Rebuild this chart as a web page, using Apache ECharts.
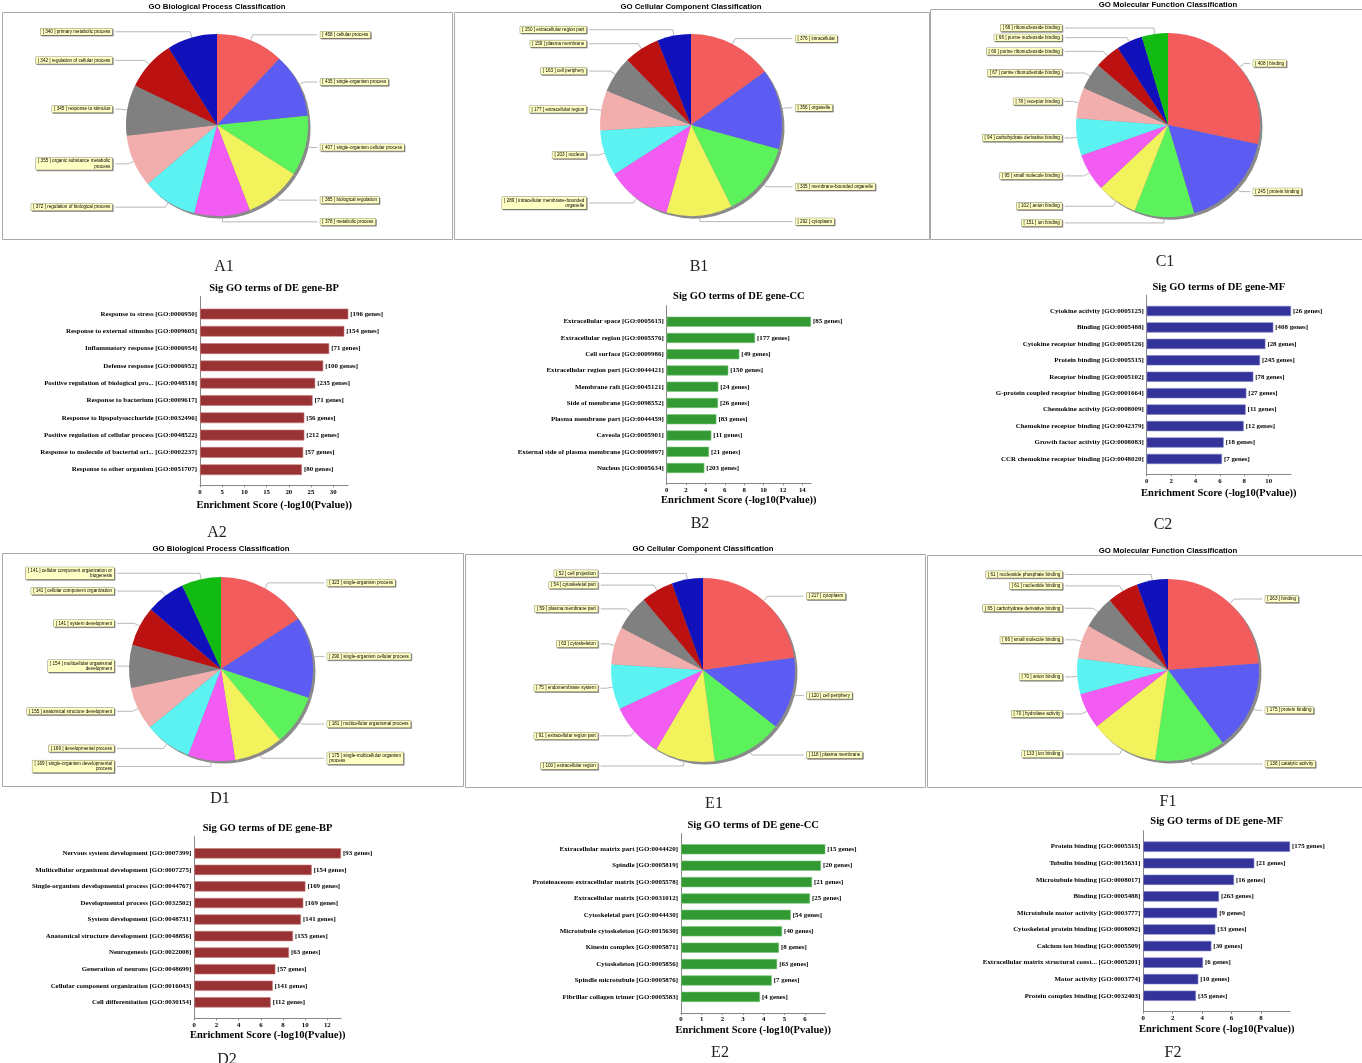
<!DOCTYPE html>
<html><head><meta charset="utf-8">
<script src="https://cdn.jsdelivr.net/npm/echarts@6/dist/echarts.min.js"></script>
<style>html,body{margin:0;padding:0;background:#fff}#c{width:1362px;height:1063px}</style>
</head><body><div id="c"></div>
<script>
// ---------- Pie data ----------
const A1_names = ['cellular process','single-organism process','single-organism cellular process','biological regulation','metabolic process','regulation of biological process','organic substance metabolic process','response to stimulus','regulation of cellular process','primary metabolic process'];
const A1_values = [458,435,407,385,378,372,355,345,342,340];
const B1_names = ['intracellular','organelle','membrane-bounded organelle','cytoplasm','intracellular membrane-bounded organelle','nucleus','extracellular region','cell periphery','plasma membrane','extracellular region part'];
const B1_values = [376,356,335,292,289,203,177,163,159,150];
const C1_names = ['binding','protein binding','ion binding','anion binding','small molecule binding','carbohydrate derivative binding','receptor binding','purine ribonucleotide binding','purine ribonucleoside binding','purine nucleoside binding','ribonucleoside binding'];
const C1_values = [408,245,151,102,95,94,78,67,66,66,66];
const D1_names = ['single-organism process','single-organism cellular process','multicellular organismal process','single-multicellular organism process','single-organism developmental process','developmental process','anatomical structure development','multicellular organismal development','system development','cellular component organization','cellular component organization or biogenesis'];
const D1_values = [323,290,181,175,169,169,155,154,141,141,141];
const E1_names = ['cytoplasm','cell periphery','plasma membrane','extracellular region','extracellular region part','endomembrane system','cytoskeleton','plasma membrane part','cytoskeletal part','cell projection'];
const E1_values = [217,120,118,100,91,75,63,59,54,52];
const F1_names = ['binding','protein binding','catalytic activity','ion binding','hydrolase activity','anion binding','small molecule binding','carbohydrate derivative binding','nucleotide binding','nucleoside phosphate binding'];
const F1_values = [263,175,138,133,70,70,66,65,61,61];

// ---------- Bar data ----------
const A2_terms = ['Response to stress [GO:0006950]','Response to external stimulus [GO:0009605]','Inflammatory response [GO:0006954]','Defense response [GO:0006952]','Positive regulation of biological pro... [GO:0048518]','Response to bacterium [GO:0009617]','Response to lipopolysaccharide [GO:0032496]','Positive regulation of cellular process [GO:0048522]','Response to molecule of bacterial ori... [GO:0002237]','Response to other organism [GO:0051707]'];
const A2_scores = [33.4,32.5,29.1,27.75,25.95,25.35,23.5,23.5,23.25,22.95];
const A2_genes = [196,154,71,100,235,71,56,212,57,80];
const A2_ticks = [0,5,10,15,20,25,30];

const B2_terms = ['Extracellular space [GO:0005615]','Extracellular region [GO:0005576]','Cell surface [GO:0009986]','Extracellular region part [GO:0044421]','Membrane raft [GO:0045121]','Side of membrane [GO:0098552]','Plasma membrane part [GO:0044459]','Caveola [GO:0005901]','External side of plasma membrane [GO:0009897]','Nucleus [GO:0005634]'];
const B2_scores = [14.9,9.12,7.5,6.36,5.33,5.3,5.13,4.61,4.37,3.89];
const B2_genes = [85,177,49,150,24,26,83,11,21,203];
const B2_ticks = [0,2,4,6,8,10,12,14];

const C2_terms = ['Cytokine activity [GO:0005125]','Binding [GO:0005488]','Cytokine receptor binding [GO:0005126]','Protein binding [GO:0005515]','Receptor binding [GO:0005102]','G-protein coupled receptor binding [GO:0001664]','Chemokine activity [GO:0008009]','Chemokine receptor binding [GO:0042379]','Growth factor activity [GO:0008083]','CCR chemokine receptor binding [GO:0048020]'];
const C2_scores = [11.83,10.38,9.73,9.29,8.74,8.17,8.11,7.95,6.31,6.17];
const C2_genes = [26,408,28,245,78,27,11,12,18,7];
const C2_ticks = [0,2,4,6,8,10];

const D2_terms = ['Nervous system development [GO:0007399]','Multicellular organismal development [GO:0007275]','Single-organism developmental process [GO:0044767]','Developmental process [GO:0032502]','System development [GO:0048731]','Anatomical structure development [GO:0048856]','Neurogenesis [GO:0022008]','Generation of neurons [GO:0048699]','Cellular component organization [GO:0016043]','Cell differentiation [GO:0030154]'];
const D2_scores = [13.23,10.59,10.02,9.83,9.62,8.9,8.54,7.31,7.07,6.89];
const D2_genes = [93,154,169,169,141,155,63,57,141,112];
const D2_ticks = [0,2,4,6,8,10,12];

const E2_terms = ['Extracellular matrix part [GO:0044420]','Spindle [GO:0005819]','Proteinaceous extracellular matrix [GO:0005578]','Extracellular matrix [GO:0031012]','Cytoskeletal part [GO:0044430]','Microtubule cytoskeleton [GO:0015630]','Kinesin complex [GO:0005871]','Cytoskeleton [GO:0005856]','Spindle microtubule [GO:0005876]','Fibrillar collagen trimer [GO:0005583]'];
const E2_scores = [6.98,6.77,6.34,6.24,5.31,4.89,4.74,4.65,4.39,3.82];
const E2_genes = [15,20,21,25,54,40,8,63,7,4];
const E2_ticks = [0,1,2,3,4,5,6];

const F2_terms = ['Protein binding [GO:0005515]','Tubulin binding [GO:0015631]','Microtubule binding [GO:0008017]','Binding [GO:0005488]','Microtubule motor activity [GO:0003777]','Cytoskeletal protein binding [GO:0008092]','Calcium ion binding [GO:0005509]','Extracellular matrix structural const... [GO:0005201]','Motor activity [GO:0003774]','Protein complex binding [GO:0032403]'];
const F2_scores = [9.98,7.55,6.17,5.15,5.03,4.9,4.63,4.06,3.74,3.58];
const F2_genes = [175,21,16,263,9,33,30,6,10,35];
const F2_ticks = [0,2,4,6,8];

const PIE_COLORS = ['#F25C5C','#5C5CF2','#5CF25C','#F2F25C','#F25CF2','#5CF2F2','#F2ADAD','#808080','#BB1111','#1111BB','#11BB11'];
const BAR_AXIS_NAME = 'Enrichment Score (-log10(Pvalue))';

const option = {animation:false, grid:[], xAxis:[], yAxis:[], series:[], graphic:[]};

function gText(x, y, text, font, fill){
  option.graphic.push({type:'text', x:x, y:y, silent:true, z:10,
    style:{text:text, font:font, fill:fill||'#000', align:'center', verticalAlign:'middle'}});
}
function gRect(b){
  option.graphic.push({type:'rect', silent:true, z:0, shape:{x:b[0]+0.5, y:b[1]+0.5, width:b[2], height:b[3]},
    style:{fill:'none', stroke:'#A8A8A8', lineWidth:1}});
}
function wrapLabel(s){
  if (s.length <= 42) return s;
  const i = s.lastIndexOf(' ', 42);
  return s.slice(0, i) + '\n' + s.slice(i + 1);
}

function addPie(p){
  gRect(p.box);
  gText(p.cx, p.ty, p.title, 'bold 7.8px "Liberation Sans"');
  gText(p.tag[0], p.tag[1], p.tagText, '16px "Liberation Serif"', '#222');
  const data = p.names.map((n, i) => ({name:n, value:p.values[i]}));
  option.series.push({
    type:'pie', silent:true, z:1, center:[p.cx + 2.5, p.cy + 2.5], radius:p.r, data:data,
    startAngle:90, clockwise:true,
    itemStyle:{color:'#8a8a8a', borderWidth:0}, label:{show:false}, labelLine:{show:false}, emphasis:{disabled:true}
  });
  option.series.push({
    type:'pie', z:2, center:[p.cx, p.cy], radius:p.r, data:data,
    startAngle:90, clockwise:true, avoidLabelOverlap:true,
    itemStyle:{borderWidth:0, color: q => PIE_COLORS[q.dataIndex % PIE_COLORS.length]},
    label:{
      show:true, position:'outer', alignTo:'labelLine',
      formatter: q => wrapLabel('[ ' + q.value + ' ] ' + q.name),
      fontFamily:'Liberation Sans', fontSize:4.6, lineHeight:5.4, color:'#000',
      backgroundColor:'#FFFFC4', borderColor:'#8a8a70', borderWidth:0.5, padding:[0.6,2],
      shadowColor:'rgba(0,0,0,0.3)', shadowOffsetX:1, shadowOffsetY:1, shadowBlur:0,
      distanceToLabelLine:3
    },
    labelLine:{show:true, length:6, length2:6, lineStyle:{color:'#9a9a9a', width:0.7}},
    emphasis:{disabled:true}
  });
}

function addBar(b){
  const n = b.terms.length;
  const gTop = b.first - b.band / 2;
  const gH = b.band * n;
  const gi = option.grid.length;
  const serif = 'Liberation Serif';
  option.grid.push({left:b.left, top:gTop, width:b.width, height:gH, outerBoundsMode:'none'});
  option.xAxis.push({
    gridIndex:gi, type:'value', min:0, max:'dataMax', offset:b.xline - (gTop + gH),
    axisLine:{show:true, lineStyle:{color:'#888', width:1}},
    axisTick:{show:true, length:2, customValues:b.ticks, lineStyle:{color:'#888'}},
    axisLabel:{customValues:b.ticks, fontFamily:serif, fontWeight:'bold', fontSize:6.8, color:'#000', margin:3},
    splitLine:{show:false},
    name:BAR_AXIS_NAME, nameLocation:'middle', nameGap:b.nameGap,
    nameTextStyle:{fontFamily:serif, fontWeight:'bold', fontSize:10.5, color:'#000'}
  });
  option.yAxis.push({
    gridIndex:gi, type:'category', inverse:true, data:b.terms,
    axisLine:{show:false}, axisTick:{show:false}, splitLine:{show:false},
    axisLabel:{interval:0, fontFamily:serif, fontWeight:'bold', fontSize:6.9, color:'#000', margin:3}
  });
  const genes = b.genes;
  option.series.push({
    type:'bar', xAxisIndex:gi, yAxisIndex:gi, data:b.scores, barWidth:'62%',
    itemStyle:{color:b.color, borderColor:b.border, borderWidth:0.6},
    label:{show:true, position:'right', distance:2, formatter: q => '[' + genes[q.dataIndex] + ' genes]',
      fontFamily:serif, fontWeight:'bold', fontSize:6.9, color:'#000'},
    emphasis:{disabled:true}
  });
  // frame grid for the full-height y axis line
  const fi = option.grid.length;
  option.grid.push({left:b.left, top:b.axisTop, width:b.width, height:b.xline - b.axisTop, outerBoundsMode:'none'});
  option.xAxis.push({gridIndex:fi, type:'value', show:false});
  option.yAxis.push({gridIndex:fi, type:'value', axisLine:{show:true, lineStyle:{color:'#888', width:1}},
    axisLabel:{show:false}, axisTick:{show:false}, splitLine:{show:false}});
  gText(b.left + b.width / 2, b.titleY, b.title, 'bold 10.5px "Liberation Serif"');
  gText(b.tag[0], b.tag[1], b.tagText, '16px "Liberation Serif"', '#222');
}

addPie({names:A1_names, values:A1_values, cx:217, cy:125, r:91, title:'GO Biological Process Classification', ty:7, box:[2,12,450,227], tagText:'A1', tag:[224,267]});
addPie({names:B1_names, values:B1_values, cx:691, cy:125, r:91, title:'GO Cellular Component Classification', ty:7, box:[454,12,475,227], tagText:'B1', tag:[699,267]});
addPie({names:C1_names, values:C1_values, cx:1168, cy:125, r:92, title:'GO Molecular Function Classification', ty:5, box:[930,9,440,230], tagText:'C1', tag:[1165,262]});
addPie({names:D1_names, values:D1_values, cx:221, cy:669, r:92, title:'GO Biological Process Classification', ty:549, box:[2,553,461,233], tagText:'D1', tag:[220,799]});
addPie({names:E1_names, values:E1_values, cx:703, cy:670, r:92, title:'GO Cellular Component Classification', ty:549, box:[465,554,460,233], tagText:'E1', tag:[714,804]});
addPie({names:F1_names, values:F1_values, cx:1168, cy:670, r:91, title:'GO Molecular Function Classification', ty:551, box:[927,555,440,232], tagText:'F1', tag:[1168,802]});

const BP = {color:'#993333', border:'#c27a7a'};
const CC = {color:'#339933', border:'#7ac27a'};
const MF = {color:'#333399', border:'#7a7ac2'};
addBar(Object.assign({terms:A2_terms, scores:A2_scores, genes:A2_genes, ticks:A2_ticks, left:200, width:148.3, first:314, band:17.3, axisTop:296.3, xline:485.3, nameGap:14, titleY:288, title:'Sig GO terms of DE gene-BP', tagText:'A2', tag:[217,533]}, BP));
addBar(Object.assign({terms:B2_terms, scores:B2_scores, genes:B2_genes, ticks:B2_ticks, left:666.7, width:144.3, first:321.7, band:16.26, axisTop:305.7, xline:483.3, nameGap:11.5, titleY:296.7, title:'Sig GO terms of DE gene-CC', tagText:'B2', tag:[700,524]}, CC));
addBar(Object.assign({terms:C2_terms, scores:C2_scores, genes:C2_genes, ticks:C2_ticks, left:1146.7, width:144.3, first:311, band:16.44, axisTop:295.3, xline:474.3, nameGap:13, titleY:287, title:'Sig GO terms of DE gene-MF', tagText:'C2', tag:[1163,525]}, MF));
addBar(Object.assign({terms:D2_terms, scores:D2_scores, genes:D2_genes, ticks:D2_ticks, left:194.3, width:146.7, first:853.3, band:16.56, axisTop:836.7, xline:1018.3, nameGap:11.7, titleY:828.3, title:'Sig GO terms of DE gene-BP', tagText:'D2', tag:[227,1060]}, BP));
addBar(Object.assign({terms:E2_terms, scores:E2_scores, genes:E2_genes, ticks:E2_ticks, left:681, width:144.3, first:849.3, band:16.4, axisTop:833.7, xline:1013, nameGap:12, titleY:825.3, title:'Sig GO terms of DE gene-CC', tagText:'E2', tag:[720,1053]}, CC));
addBar(Object.assign({terms:F2_terms, scores:F2_scores, genes:F2_genes, ticks:F2_ticks, left:1143.3, width:146.7, first:846.7, band:16.56, axisTop:830.7, xline:1011.7, nameGap:12.3, titleY:821, title:'Sig GO terms of DE gene-MF', tagText:'F2', tag:[1173,1053]}, MF));

const chart = echarts.init(document.getElementById('c'), null, {renderer:'canvas'});
chart.setOption(option);
</script>
</body></html>
